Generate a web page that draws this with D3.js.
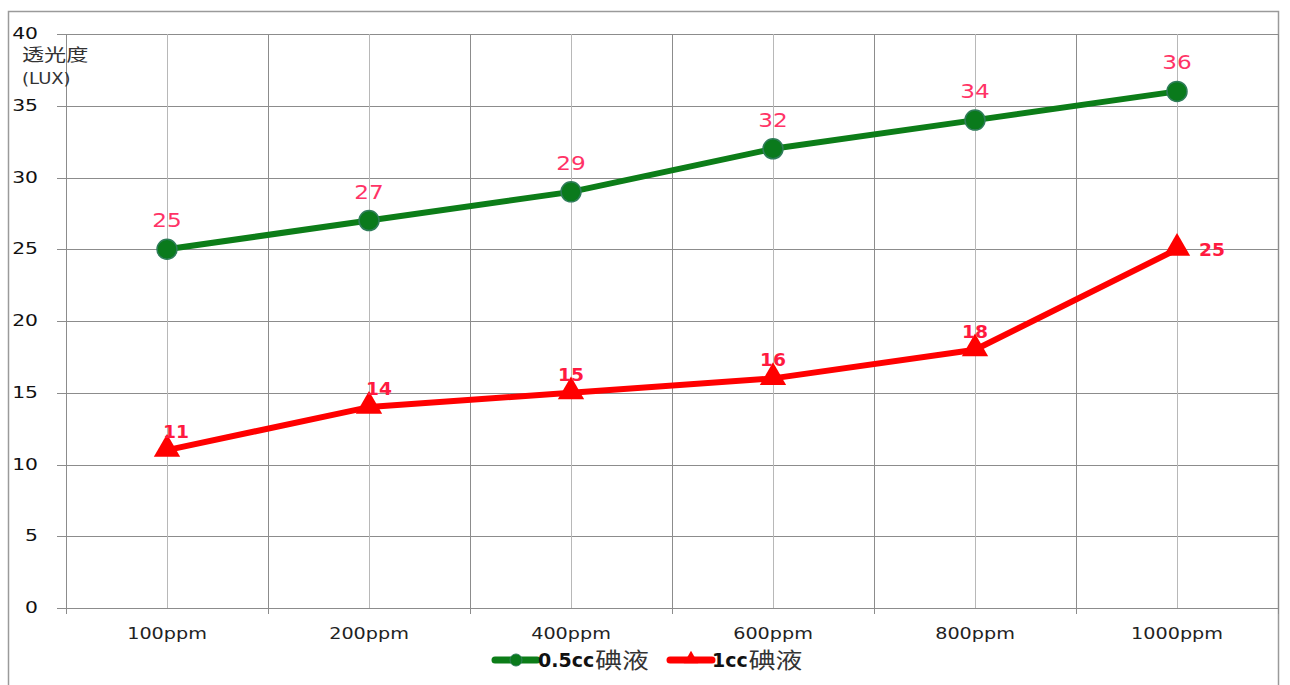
<!DOCTYPE html>
<html>
<head>
<meta charset="utf-8">
<script src="https://cdn.jsdelivr.net/npm/d3@7"></script>
<style>
  html, body { margin: 0; padding: 0; background: #fff; }
  svg { display: block; }
</style>
</head>
<body>
<svg id="chart" width="1290" height="685"></svg>
<script>
// Concentration categories and light transmission (LUX) per iodine dose
const categories = ["100ppm", "200ppm", "400ppm", "600ppm", "800ppm", "1000ppm"];
const seriesNames = ["0.5cc碘液", "1cc碘液"];
const valuesHalfCc = [25, 27, 29, 32, 34, 36];
const valuesOneCc = [11, 14, 15, 16, 18, 25];
const yTicks = [0, 5, 10, 15, 20, 25, 30, 35, 40];
const yTitle = ["透光度", "(LUX)"];

const svg = d3.select("#chart");
const plot = { left: 66, right: 1278, top: 34, bottom: 608 };

const font = "'DejaVu Sans', Verdana, sans-serif";
const cjkFont = "'Noto Sans CJK SC', 'DejaVu Sans', sans-serif";

// text with a wide, horizontally stretched look
function wideText(parent, px, py, sx, anchor) {
  return parent.append("g")
    .attr("transform", `translate(${px},${py}) scale(${sx},1)`)
    .append("text")
    .attr("text-anchor", anchor || "start");
}

// outer frame
svg.append("rect")
  .attr("x", 8.5).attr("y", 11.5)
  .attr("width", 1270).attr("height", 690)
  .attr("fill", "#fff").attr("stroke", "#9a9a9a").attr("stroke-width", 1.5);

const x = d3.scaleBand().domain(categories).range([plot.left, plot.right]);
const y = d3.scaleLinear().domain([0, 40]).range([plot.bottom, plot.top]);
const cx = c => x(c) + x.bandwidth() / 2;

// horizontal gridlines
svg.append("g").selectAll("line").data(yTicks).join("line")
  .attr("x1", plot.left - 9).attr("x2", plot.right)
  .attr("y1", d => Math.round(y(d)) + 0.5).attr("y2", d => Math.round(y(d)) + 0.5)
  .attr("stroke", "#8c8c8c").attr("stroke-width", 1);

// vertical gridlines at band edges (with ticks below axis) and band centres
const edges = categories.map(c => x(c)).concat([plot.right]);
svg.append("g").selectAll("line").data(edges).join("line")
  .attr("x1", d => Math.round(d) + 0.5).attr("x2", d => Math.round(d) + 0.5)
  .attr("y1", plot.top).attr("y2", plot.bottom + 6)
  .attr("stroke", "#8c8c8c").attr("stroke-width", 1);
svg.append("g").selectAll("line").data(categories).join("line")
  .attr("x1", d => Math.round(cx(d)) + 0.5).attr("x2", d => Math.round(cx(d)) + 0.5)
  .attr("y1", plot.top).attr("y2", plot.bottom)
  .attr("stroke", "#b8b8b8").attr("stroke-width", 1);

// y tick labels
const yLabelLayer = svg.append("g");
yTicks.forEach(v => {
  wideText(yLabelLayer, 38, y(v) + 5, 1.27, "end")
    .attr("font-family", font).attr("font-size", 16)
    .attr("fill", "#111").text(v);
});

// y axis title
wideText(svg, 22, 61, 1.3)
  .attr("font-family", cjkFont).attr("font-size", 17)
  .attr("fill", "#333").text(yTitle[0]);
wideText(svg, 22, 84, 1.2)
  .attr("font-family", font).attr("font-size", 15)
  .attr("fill", "#333").text(yTitle[1]);

// x tick labels
const xLabelLayer = svg.append("g");
categories.forEach(c => {
  wideText(xLabelLayer, cx(c), 639, 1.2, "middle")
    .attr("font-family", font).attr("font-size", 16)
    .attr("fill", "#222").text(c);
});

const green = "#0c7d18";
const red = "#ff0000";
const line = d3.line().x((d, i) => cx(categories[i])).y(d => y(d));

// 0.5cc series
svg.append("path").datum(valuesHalfCc)
  .attr("d", line).attr("fill", "none")
  .attr("stroke", green).attr("stroke-width", 6).attr("stroke-linejoin", "round");
svg.append("g").selectAll("circle").data(valuesHalfCc).join("circle")
  .attr("cx", (d, i) => cx(categories[i])).attr("cy", d => y(d))
  .attr("r", 10)
  .attr("fill", "#0a7a1c").attr("stroke", "#2f7d5a").attr("stroke-width", 1.5);
const greenLabels = svg.append("g");
valuesHalfCc.forEach((v, i) => {
  wideText(greenLabels, cx(categories[i]), y(v) - 22, 1.22, "middle")
    .attr("font-family", font).attr("font-size", 19)
    .attr("fill", "#ff3366").text(v);
});

// 1cc series
svg.append("path").datum(valuesOneCc)
  .attr("d", line).attr("fill", "none")
  .attr("stroke", red).attr("stroke-width", 6).attr("stroke-linejoin", "round");
const tri = d3.symbol().type(d3.symbolTriangle).size(300);
svg.append("g").selectAll("path").data(valuesOneCc).join("path")
  .attr("transform", (d, i) => `translate(${cx(categories[i])},${y(d) - 1})`)
  .attr("d", tri)
  .attr("fill", red);
const redLabels = svg.append("g");
const lastIdx = valuesOneCc.length - 1;
valuesOneCc.forEach((v, i) => {
  const dx = i === lastIdx ? 22 : (i === 0 ? 9 : (i === 1 ? 10 : 0));
  const py = i === lastIdx ? y(v) + 7 : y(v) - 12;
  wideText(redLabels, cx(categories[i]) + dx, py, 1.1, i === lastIdx ? "start" : "middle")
    .attr("font-family", font).attr("font-size", 17).attr("font-weight", "bold")
    .attr("fill", "#ff1a40").text(v);
});

// legend
const legend = svg.append("g").attr("transform", "translate(0,660)");
const legendItems = [
  { name: seriesNames[0], color: green, x0: 495, textX: 538, marker: "circle" },
  { name: seriesNames[1], color: red, x0: 670, textX: 712, marker: "triangle" }
];
legendItems.forEach(it => {
  legend.append("line")
    .attr("x1", it.x0).attr("x2", it.x0 + 42).attr("y1", 0).attr("y2", 0)
    .attr("stroke", it.color).attr("stroke-width", 7).attr("stroke-linecap", "round");
  if (it.marker === "circle") {
    legend.append("circle").attr("cx", it.x0 + 21).attr("cy", 0).attr("r", 6)
      .attr("fill", "#0a7a1c").attr("stroke", "#2f7d5a");
  } else {
    legend.append("path").attr("transform", `translate(${it.x0 + 21},-1)`)
      .attr("d", d3.symbol().type(d3.symbolTriangle).size(90)).attr("fill", red);
  }
  const m = it.name.match(/^([0-9.a-z]+)(.*)$/);
  const sx1 = 1.0;
  const head = wideText(legend, it.textX, 7, sx1)
    .attr("font-family", font).attr("font-weight", "bold").attr("font-size", 19)
    .attr("fill", "#111").text(m[1]);
  const w = head.node().getComputedTextLength() * sx1;
  wideText(legend, it.textX + w + 1, 8, 1.22)
    .attr("font-family", cjkFont).attr("font-size", 22)
    .attr("fill", "#333").text(m[2]);
});
</script>
</body>
</html>
